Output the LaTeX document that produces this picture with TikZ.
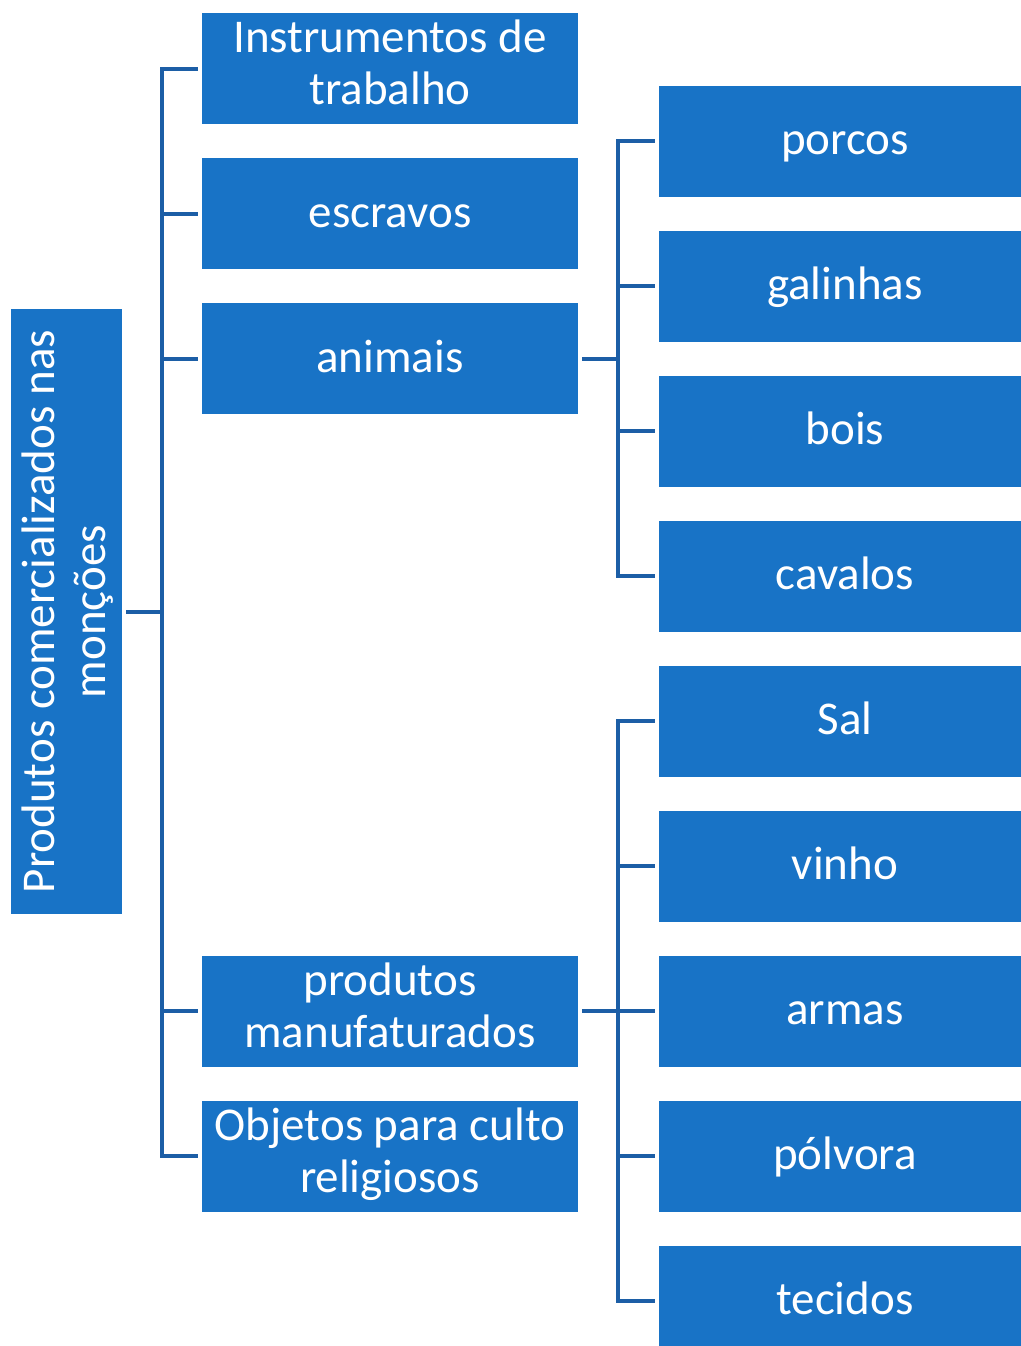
\documentclass[tikz,border=0pt]{standalone}
\usepackage{graphicx}
\usepackage{fontspec}
\setmainfont{Carlito}
\definecolor{boxblue}{RGB}{24,115,198}
\definecolor{lineblue}{RGB}{28,94,166}
\newcommand\boxstrut{\rule[-6.25pt]{0pt}{26pt}}
\begin{document}
\begin{tikzpicture}[x=0.5pt,y=-0.5pt,
  bluebox/.style={fill=boxblue,text=white,inner sep=0pt,align=center,font=\fontsize{23.5}{26}\selectfont},
  item/.style={bluebox,execute at begin node=\boxstrut,execute at end node=\boxstrut},
  conn/.style={draw=lineblue,line width=2pt}]
\def\dy{68.5}
\def\dh{72.5}
\useasboundingbox (0,0) rectangle (1021,1346);
\clip (0,0) rectangle (1021,1346);
%root
\node[bluebox,minimum width=55.5pt,minimum height=302.5pt] (root) at (66.5,611.5)
  {\rotatebox{90}{\parbox{300pt}{\centering\boxstrut Produtos comercializados nas\\monções\boxstrut}}};
%middle column
\foreach\n/\j/\t in {instr/0/{Instrumentos de\\trabalho},escravos/2/escravos,animais/4/animais,manuf/13/{produtos\\manufaturados},culto/15/{Objetos para culto\\religiosos}} {
  \node[item,minimum width=188pt,minimum height=55.5pt] (\n) at (390,\dy+\j*\dh) {\t};
}
%right column
\foreach\n/\j/\t in {porcos/1/porcos,galinhas/3/galinhas,bois/5/bois,cavalos/7/cavalos,sal/9/Sal,vinho/11/vinho,armas/13/armas,polvora/15/pólvora,tecidos/17/tecidos} {
  \node[item,minimum width=186pt,minimum height=55.5pt] (\n) at (845,\dy+\j*\dh) {\t};
}
%lines
\foreach\n in {instr,escravos,animais,manuf,culto} {
  \draw[conn] ([xshift=2pt]root.east) -- ++(36,0) |- ([xshift=-2pt]\n.west);
}
\foreach\n in {porcos,galinhas,bois,cavalos} {
  \draw[conn] ([xshift=2pt]animais.east) -- ++(36,0) |- ([xshift=-2pt]\n.west);
}
\foreach\n in {sal,vinho,armas,polvora,tecidos} {
  \draw[conn] ([xshift=2pt]manuf.east) -- ++(36,0) |- ([xshift=-2pt]\n.west);
}
\end{tikzpicture}
\end{document}
